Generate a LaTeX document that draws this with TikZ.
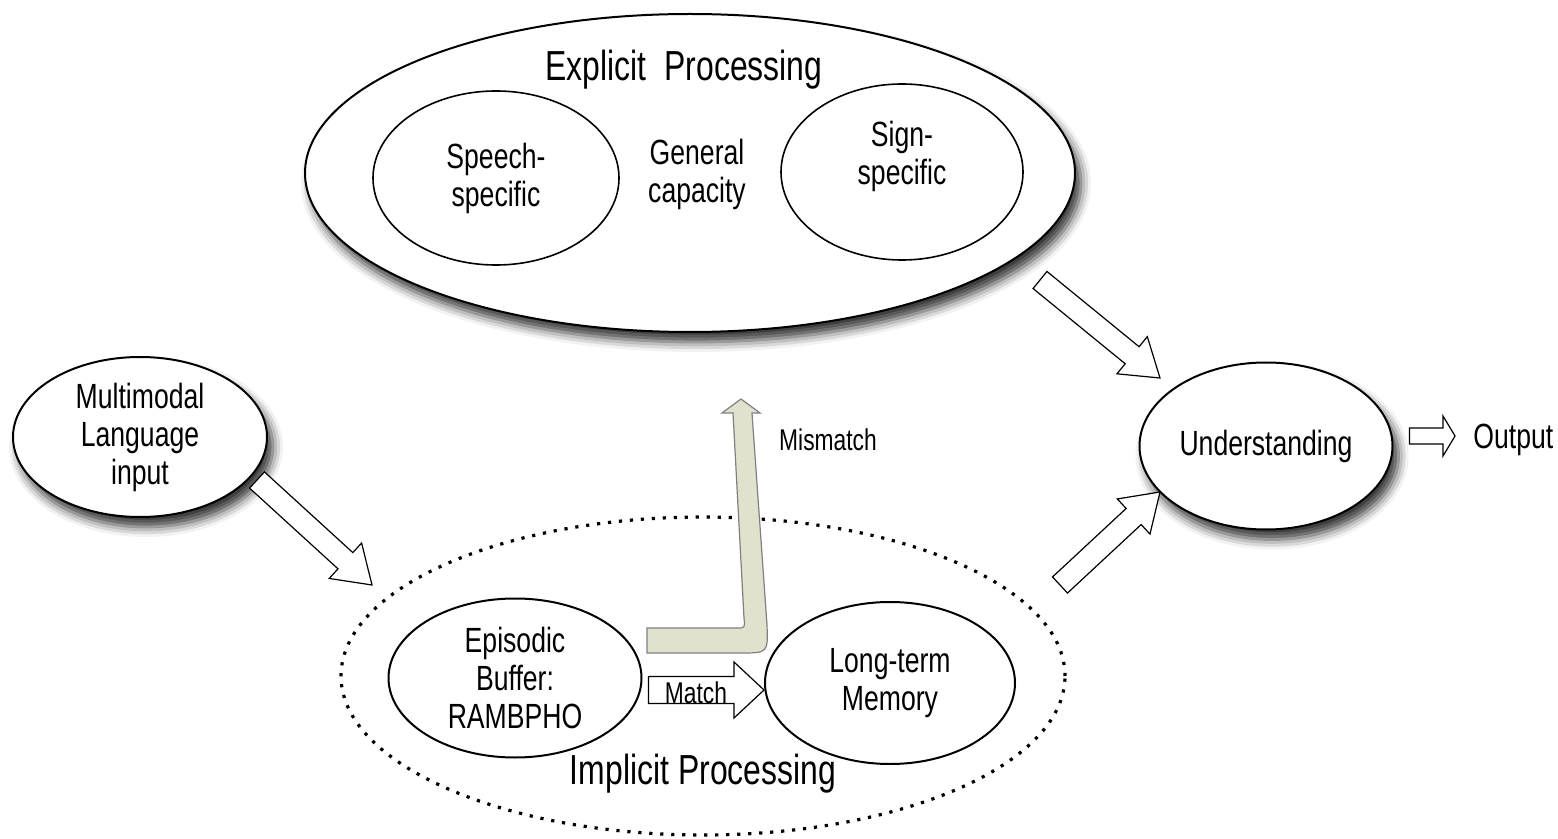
\documentclass[tikz,border=0pt]{standalone}
\usepackage{fontspec}
\setmainfont{Liberation Sans}[FakeStretch=0.76]
\usetikzlibrary{shapes.geometric,calc,shadows.blur}
\definecolor{sage}{RGB}{224,226,206}

\tikzset{
  bubble/.style={ellipse,draw,line width=1pt,fill=white,inner sep=0pt,align=center},
  shade/.style={blur shadow={shadow xshift=3pt,shadow yshift=-5pt,shadow blur radius=5pt,shadow opacity=80}},
  hollow/.style={draw,line width=0.6pt,fill=white,line join=miter},
  title/.style={font=\fontsize{21}{24}\selectfont},
  small/.style={font=\fontsize{15}{18}\selectfont},
}
% block arrow: [options]{from}{to}{half body}{half head}{head length}
\newcommand{\blockarrow}[6][]{%
  \coordinate (ba-c) at ($(#3)!#6!(#2)$);
  \draw[hollow,#1] ($(#2)!#4!90:(#3)$) -- ($(ba-c)!#4!90:(#3)$) -- ($(ba-c)!#5!90:(#3)$) -- (#3)
    -- ($(ba-c)!#5!-90:(#3)$) -- ($(ba-c)!#4!-90:(#3)$) -- ($(#2)!#4!-90:(#3)$) -- cycle;}

\begin{document}
\begin{tikzpicture}[x=0.5pt,y=-0.5pt,font=\fontsize{17.5}{19}\selectfont]
\useasboundingbox (0,0) rectangle (1558,839);

% explicit processing
\node[bubble,shade,minimum width=385pt,minimum height=159pt] (expl) at (690,173) {};
\node[title] (expltitle) at (684,70) {Explicit\ \ Processing};
\node[bubble,line width=0.8pt,minimum width=123pt,minimum height=87pt] (speech) at (496,178) {Speech-\\specific};
\node[align=center] (general) at (697,174) {General\\capacity};
\node[bubble,line width=0.8pt,minimum width=121pt,minimum height=88pt] (sign) at (902,172) {};
\node[align=center] (signtxt) at (902,156) {Sign-\\specific};

% implicit processing
\node[ellipse,draw,line width=1.6pt,dash pattern=on 1.6pt off 3.9pt,
      minimum width=362pt,minimum height=159pt] (impl) at (703,676) {};
\node[title] (impltitle) at (703,774) {Implicit Processing};
\node[bubble,minimum width=126.5pt,minimum height=79.5pt] (epis) at (515,678) {Episodic\\Buffer:\\RAMBPHO};
\node[bubble,minimum width=125pt,minimum height=81pt] (ltm) at (890,683) {Long-term\\Memory};

% input, understanding, output
\node[bubble,shade,minimum width=127pt,minimum height=80pt] (multi) at (140,437) {Multimodal\\Language\\input};
\node[bubble,shade,minimum width=126.5pt,minimum height=83.5pt] (und) at (1266,446) {Understanding};
\node[anchor=west,inner sep=0pt] (out) at (1473,440) {Output};

% arrows
\coordinate (mi-a) at (257,480);
\coordinate (mi-b) at (372,585);
\coordinate (eu-a) at (1040,280);
\coordinate (eu-b) at (1160,378);
\coordinate (iu-a) at (1060,585);
\coordinate (iu-b) at (1160,492);
\blockarrow{mi-a}{mi-b}{5.5pt}{12pt}{18pt}
\blockarrow{eu-a}{eu-b}{5.5pt}{12pt}{18pt}
\blockarrow{iu-a}{iu-b}{5.5pt}{12pt}{18pt}
\coordinate (uo-a) at ([xshift=8pt,yshift=5pt]und.east);
\coordinate (uo-b) at ([xshift=-9pt,yshift=2pt]out.west);
\blockarrow{uo-a}{uo-b}{4pt}{10pt}{6pt}

% match / mismatch
\coordinate (ma-a) at ([xshift=3pt,yshift=-6pt]epis.east);
\coordinate (ma-b) at ([yshift=-3.5pt]ltm.west);
\blockarrow{ma-a}{ma-b}{6.75pt}{14pt}{15pt}
\node[small] (match) at (696,693) {Match};
\draw[fill=sage,draw=gray,line width=0.6pt] (647,628) -- (737,628) .. controls (745,628) .. (744,618)
  -- (733,413) -- (722,413) -- (741,399) -- (760,413) -- (752,413)
  -- (767,625) .. controls (768,653) .. (740,653) -- (647,653) -- cycle;
\node[small] (mismatch) at (828,440) {Mismatch};
\end{tikzpicture}
\end{document}
